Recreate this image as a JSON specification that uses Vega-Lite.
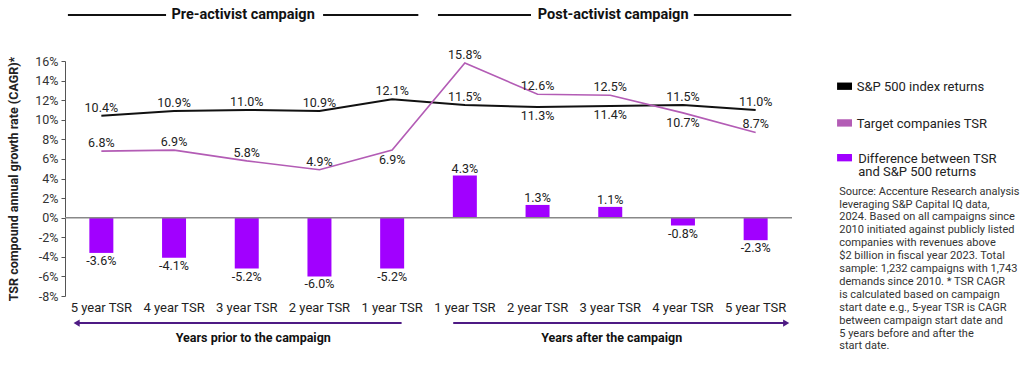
{
  "$schema": "https://vega.github.io/schema/vega-lite/v6.json",
  "width": 727,
  "height": 235,
  "autosize": {"type": "none"},
  "padding": {"left": 65, "top": 61, "right": 232, "bottom": 69},
  "background": "white",
  "config": {
    "font": "Roboto",
    "view": {"stroke": null},
    "locale": {"number": {"decimal": ".", "thousands": ",", "grouping": [3], "currency": ["$", ""], "minus": "-"}},
    "text": {"fontSize": 12.5, "color": "#222"},
    "axisY": {"labelOverlap": false, "labelBound": false, "labelFlush": false, "grid": false, "domainColor": "#555", "tickColor": "#555", "tickSize": 4, "labelFontSize": 12.5, "labelColor": "#333", "labelPadding": 3, "titleFontSize": 12.5, "titleFontWeight": "bold", "titleColor": "#222", "titlePadding": 14}
  },
  "datasets": {
    "tsr": [
      {"cat": "5 year TSR (pre)", "sp": 0.104, "tsr": 0.068, "diff": -0.036, "spPos": "above", "tsrPos": "above"},
      {"cat": "4 year TSR (pre)", "sp": 0.109, "tsr": 0.069, "diff": -0.041, "spPos": "above", "tsrPos": "above"},
      {"cat": "3 year TSR (pre)", "sp": 0.110, "tsr": 0.058, "diff": -0.052, "spPos": "above", "tsrPos": "above"},
      {"cat": "2 year TSR (pre)", "sp": 0.109, "tsr": 0.049, "diff": -0.060, "spPos": "above", "tsrPos": "above"},
      {"cat": "1 year TSR (pre)", "sp": 0.121, "tsr": 0.069, "diff": -0.052, "spPos": "above", "tsrPos": "below"},
      {"cat": "1 year TSR (post)", "sp": 0.115, "tsr": 0.158, "diff": 0.043, "spPos": "above", "tsrPos": "above"},
      {"cat": "2 year TSR (post)", "sp": 0.113, "tsr": 0.126, "diff": 0.013, "spPos": "below", "tsrPos": "above"},
      {"cat": "3 year TSR (post)", "sp": 0.114, "tsr": 0.125, "diff": 0.011, "spPos": "below", "tsrPos": "above"},
      {"cat": "4 year TSR (post)", "sp": 0.115, "tsr": 0.107, "diff": -0.008, "spPos": "above", "tsrPos": "below"},
      {"cat": "5 year TSR (post)", "sp": 0.110, "tsr": 0.087, "diff": -0.023, "spPos": "above", "tsrPos": "above"}
    ]
  },
  "layer": [
    {
      "data": {"name": "tsr"},
      "encoding": {
        "x": {
          "field": "cat", "type": "nominal", "sort": null,
          "scale": {"paddingInner": 0.67, "paddingOuter": 0.335},
          "axis": {"title": null, "domain": false, "ticks": false, "labelAngle": 0, "labelFontSize": 13, "labelColor": "#222", "labelPadding": 5, "labelExpr": "split(datum.label, ' (')[0]"}
        }
      },
      "layer": [
        {
          "mark": {"type": "bar", "color": "#a100ff"},
          "encoding": {
            "y": {
              "field": "diff", "type": "quantitative",
              "scale": {"domain": [-0.08, 0.16], "nice": false},
              "axis": {
                "values": [-0.08, -0.06, -0.04, -0.02, 0, 0.02, 0.04, 0.06, 0.08, 0.1, 0.12, 0.14, 0.16],
                "tickCount": 13,
                "format": ".0%",
                "labelOverlap": false,
                "title": "TSR compound annual growth rate (CAGR)*"
              }
            }
          }
        },
        {
          "mark": {"type": "line", "color": "#111", "strokeWidth": 2},
          "encoding": {"y": {"field": "sp", "type": "quantitative"}}
        },
        {
          "mark": {"type": "line", "color": "#b35cb5", "strokeWidth": 1.6},
          "encoding": {"y": {"field": "tsr", "type": "quantitative"}}
        },
        {
          "transform": [{"filter": "datum.spPos == 'above'"}],
          "mark": {"type": "text", "baseline": "middle", "dy": -8},
          "encoding": {"y": {"field": "sp", "type": "quantitative"}, "text": {"field": "sp", "format": ".1%"}}
        },
        {
          "transform": [{"filter": "datum.spPos == 'below'"}],
          "mark": {"type": "text", "baseline": "middle", "dy": 9},
          "encoding": {"y": {"field": "sp", "type": "quantitative"}, "text": {"field": "sp", "format": ".1%"}}
        },
        {
          "transform": [{"filter": "datum.tsrPos == 'above'"}],
          "mark": {"type": "text", "baseline": "middle", "dy": -8},
          "encoding": {"y": {"field": "tsr", "type": "quantitative"}, "text": {"field": "tsr", "format": ".1%"}}
        },
        {
          "transform": [{"filter": "datum.tsrPos == 'below'"}],
          "mark": {"type": "text", "baseline": "middle", "dy": 10},
          "encoding": {"y": {"field": "tsr", "type": "quantitative"}, "text": {"field": "tsr", "format": ".1%"}}
        },
        {
          "transform": [{"filter": "datum.diff >= 0"}],
          "mark": {"type": "text", "baseline": "middle", "dy": -7},
          "encoding": {"y": {"field": "diff", "type": "quantitative"}, "text": {"field": "diff", "format": ".1%"}}
        },
        {
          "transform": [{"filter": "datum.diff < 0"}],
          "mark": {"type": "text", "baseline": "middle", "dy": 8},
          "encoding": {"y": {"field": "diff", "type": "quantitative"}, "text": {"field": "diff", "format": ".1%"}}
        }
      ]
    },
    {
      "data": {"values": [{}]},
      "layer": [
        {
          "mark": {"type": "rule", "color": "#888", "strokeWidth": 1.5},
          "encoding": {"y": {"datum": 0, "type": "quantitative", "scale": {"domain": [-0.08, 0.16], "nice": false}, "axis": null}}
        },
        {
          "mark": {"type": "rule", "color": "#111", "strokeWidth": 2},
          "encoding": {
            "x": {"datum": 0.04, "type": "quantitative", "scale": {"domain": [0, 10], "nice": false}, "axis": null},
            "x2": {"datum": 1.39}, "y": {"datum": 0.207, "type": "quantitative", "axis": null}
          }
        },
        {
          "mark": {"type": "rule", "color": "#111", "strokeWidth": 2},
          "encoding": {
            "x": {"datum": 3.55, "type": "quantitative", "axis": null},
            "x2": {"datum": 4.86}, "y": {"datum": 0.207, "type": "quantitative", "axis": null}
          }
        },
        {
          "mark": {"type": "rule", "color": "#111", "strokeWidth": 2},
          "encoding": {
            "x": {"datum": 5.13, "type": "quantitative", "axis": null},
            "x2": {"datum": 6.41}, "y": {"datum": 0.207, "type": "quantitative", "axis": null}
          }
        },
        {
          "mark": {"type": "rule", "color": "#111", "strokeWidth": 2},
          "encoding": {
            "x": {"datum": 8.65, "type": "quantitative", "axis": null},
            "x2": {"datum": 9.99}, "y": {"datum": 0.207, "type": "quantitative", "axis": null}
          }
        },
        {
          "mark": {"type": "text", "text": "Pre-activist campaign", "fontSize": 14.5, "fontWeight": "bold", "color": "#111", "baseline": "middle"},
          "encoding": {
            "x": {"datum": 2.45, "type": "quantitative", "axis": null},
            "y": {"datum": 0.207, "type": "quantitative", "axis": null}
          }
        },
        {
          "mark": {"type": "text", "text": "Post-activist campaign", "fontSize": 14.5, "fontWeight": "bold", "color": "#111", "baseline": "middle"},
          "encoding": {
            "x": {"datum": 7.54, "type": "quantitative", "axis": null},
            "y": {"datum": 0.207, "type": "quantitative", "axis": null}
          }
        },
        {
          "mark": {"type": "rule", "color": "#4e1a84", "strokeWidth": 2},
          "encoding": {
            "x": {"datum": 0.15, "type": "quantitative", "axis": null},
            "x2": {"datum": 4.63}, "y": {"datum": -0.1077, "type": "quantitative", "axis": null}
          }
        },
        {
          "mark": {"type": "point", "shape": "triangle-left", "filled": true, "color": "#4e1a84", "size": 50, "opacity": 1},
          "encoding": {
            "x": {"datum": 0.16, "type": "quantitative", "axis": null},
            "y": {"datum": -0.1077, "type": "quantitative", "axis": null}
          }
        },
        {
          "mark": {"type": "rule", "color": "#4e1a84", "strokeWidth": 2},
          "encoding": {
            "x": {"datum": 5.34, "type": "quantitative", "axis": null},
            "x2": {"datum": 9.92}, "y": {"datum": -0.1077, "type": "quantitative", "axis": null}
          }
        },
        {
          "mark": {"type": "point", "shape": "triangle-right", "filled": true, "color": "#4e1a84", "size": 50, "opacity": 1},
          "encoding": {
            "x": {"datum": 9.92, "type": "quantitative", "axis": null},
            "y": {"datum": -0.1077, "type": "quantitative", "axis": null}
          }
        },
        {
          "mark": {"type": "text", "text": "Years prior to the campaign", "fontSize": 12.5, "fontWeight": "bold", "color": "#111", "baseline": "middle"},
          "encoding": {
            "x": {"datum": 2.59, "type": "quantitative", "axis": null},
            "y": {"datum": -0.1224, "type": "quantitative", "axis": null}
          }
        },
        {
          "mark": {"type": "text", "text": "Years after the campaign", "fontSize": 12.5, "fontWeight": "bold", "color": "#111", "baseline": "middle"},
          "encoding": {
            "x": {"datum": 7.52, "type": "quantitative", "axis": null},
            "y": {"datum": -0.1224, "type": "quantitative", "axis": null}
          }
        },
        {
          "mark": {"type": "rect", "color": "#000"},
          "encoding": {
            "x": {"datum": 10.62, "type": "quantitative", "axis": null},
            "x2": {"datum": 10.825},
            "y": {"datum": 0.138, "type": "quantitative", "axis": null}, "y2": {"datum": 0.1305}
          }
        },
        {
          "mark": {"type": "rect", "color": "#b35cb5"},
          "encoding": {
            "x": {"datum": 10.62, "type": "quantitative", "axis": null},
            "x2": {"datum": 10.825},
            "y": {"datum": 0.1005, "type": "quantitative", "axis": null}, "y2": {"datum": 0.093}
          }
        },
        {
          "mark": {"type": "rect", "color": "#a100ff"},
          "encoding": {
            "x": {"datum": 10.62, "type": "quantitative", "axis": null},
            "x2": {"datum": 10.825},
            "y": {"datum": 0.065, "type": "quantitative", "axis": null}, "y2": {"datum": 0.0575}
          }
        },
        {
          "mark": {"type": "text", "text": "S&P 500 index returns", "fontSize": 13, "color": "#222", "align": "left", "baseline": "middle"},
          "encoding": {
            "x": {"datum": 10.89, "type": "quantitative", "axis": null},
            "y": {"datum": 0.1334, "type": "quantitative", "axis": null}
          }
        },
        {
          "mark": {"type": "text", "text": "Target companies TSR", "fontSize": 13, "color": "#222", "align": "left", "baseline": "middle"},
          "encoding": {
            "x": {"datum": 10.89, "type": "quantitative", "axis": null},
            "y": {"datum": 0.0961, "type": "quantitative", "axis": null}
          }
        },
        {
          "mark": {"type": "text", "text": ["Difference between TSR", "and S&P 500 returns"], "fontSize": 13, "lineHeight": 13.5, "color": "#222", "align": "left", "baseline": "top"},
          "encoding": {
            "x": {"datum": 10.91, "type": "quantitative", "axis": null},
            "y": {"datum": 0.0665, "type": "quantitative", "axis": null}
          }
        },
        {
          "mark": {
            "type": "text",
            "text": [
              "Source: Accenture Research analysis",
              "leveraging S&P Capital IQ data,",
              "2024. Based on all campaigns since",
              "2010 initiated against publicly listed",
              "companies with revenues above",
              "$2 billion in fiscal year 2023. Total",
              "sample: 1,232 campaigns with 1,743",
              "demands since 2010. * TSR CAGR",
              "is calculated based on campaign",
              "start date e.g., 5-year TSR is CAGR",
              "between campaign start date and",
              "5 years before and after the",
              "start date."
            ],
            "fontSize": 11, "lineHeight": 12.9, "color": "#333", "align": "left", "baseline": "top"
          },
          "encoding": {
            "x": {"datum": 10.65, "type": "quantitative", "axis": null},
            "y": {"datum": 0.0327, "type": "quantitative", "axis": null}
          }
        }
      ]
    }
  ],
  "resolve": {"scale": {"x": "independent", "y": "independent"}}
}
